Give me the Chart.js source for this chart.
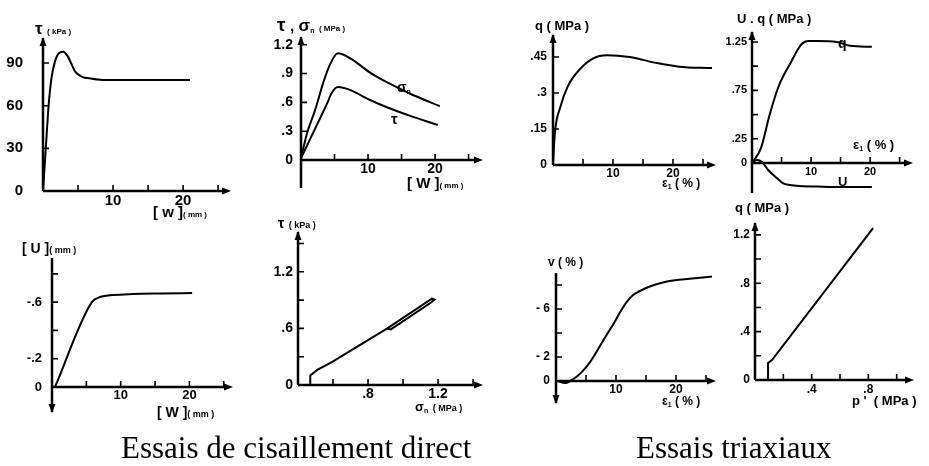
<!DOCTYPE html>
<html lang="fr">
<head>
<meta charset="UTF-8" />
<title>Essais de cisaillement direct / Essais triaxiaux</title>
<script src="https://cdn.jsdelivr.net/npm/chart.js"></script>
<style>
  body { margin: 0; background: #fff; }
  #page { position: relative; width: 929px; height: 466px; overflow: hidden; }
  #page canvas { position: absolute; left: 0; top: 0; }
  .t { position: absolute; white-space: nowrap; line-height: 1; font-family: 'Liberation Sans', Arial, sans-serif; font-weight: bold; color: #000; }
  .cap { position: absolute; white-space: nowrap; line-height: 1; font-family: 'Liberation Serif', 'Times New Roman', serif; font-size: 31px; color: #000; }
  .s { font-size: 8px; }
  sub { font-size: 7px; vertical-align: -2px; }
</style>
</head>
<body>
<div id="page">
  <canvas id="c1" width="929" height="466"></canvas>
  <canvas id="c2" width="929" height="466"></canvas>
  <canvas id="c3" width="929" height="466"></canvas>
  <canvas id="c4" width="929" height="466"></canvas>
  <canvas id="c5" width="929" height="466"></canvas>
  <canvas id="c6" width="929" height="466"></canvas>
  <canvas id="c7" width="929" height="466"></canvas>
  <canvas id="c8" width="929" height="466"></canvas>

  <!-- titres des axes -->
  <div class="t" style="left:35px;top:20px"><span style="font-size:17px">τ</span> <span class="s">( kPa )</span></div>
  <div class="t" style="left:153px;top:204px"><span style="font-size:15px">[ w ]</span><span class="s">( mm )</span></div>

  <div class="t" style="left:277px;top:15px"><span style="font-size:19px">τ</span> <span style="font-size:15px">,</span> <span style="font-size:17px">σ</span><sub>n</sub> <span class="s">( MPa )</span></div>
  <div class="t" style="left:407px;top:175px"><span style="font-size:15px">[ W ]</span><span class="s">( mm )</span></div>
  <div class="t" style="left:397px;top:79px"><span style="font-size:14px">σ</span><sub>n</sub></div>
  <div class="t" style="left:391px;top:111px;font-size:15px">τ</div>

  <div class="t" style="left:535px;top:19px;font-size:13px">q ( MPa )</div>
  <div class="t" style="left:662px;top:177px;font-size:12px">ε<sub>1</sub> ( % )</div>

  <div class="t" style="left:737px;top:12px;font-size:13px">U . q ( MPa )</div>
  <div class="t" style="left:853px;top:138px;font-size:13px">ε<sub>1</sub> ( % )</div>
  <div class="t" style="left:838px;top:36px;font-size:14px">q</div>
  <div class="t" style="left:838px;top:175px;font-size:13px">U</div>

  <div class="t" style="left:22px;top:240px"><span style="font-size:14px">[ U ]</span><span style="font-size:9px">( mm )</span></div>
  <div class="t" style="left:157px;top:404px"><span style="font-size:14px">[ W ]</span><span style="font-size:9px">( mm )</span></div>

  <div class="t" style="left:278px;top:215px"><span style="font-size:14px">τ</span> <span style="font-size:9px">( kPa )</span></div>
  <div class="t" style="left:415px;top:398px"><span style="font-size:13px">σ</span><sub>n</sub> <span style="font-size:9px">( MPa )</span></div>

  <div class="t" style="left:548px;top:256px;font-size:12px">v ( % )</div>
  <div class="t" style="left:662px;top:395px;font-size:12px">ε<sub>1</sub> ( % )</div>

  <div class="t" style="left:735px;top:201px;font-size:13px">q ( MPa )</div>
  <div class="t" style="left:852px;top:394px;font-size:13px">p ' &nbsp;( MPa )</div>

  <div class="cap" style="left:121px;top:432px">Essais de cisaillement direct</div>
  <div class="cap" style="left:636px;top:432px">Essais triaxiaux</div>
</div>

<script>
// ---- cisaillement direct ----
// tau - w
const w1 = [0, 0.4, 0.8, 1.2, 1.7, 2.3, 2.9, 3.5, 4.0, 4.6, 5.5, 7, 9, 12, 16, 21];
const tau1 = [0, 30, 60, 79, 91, 97, 98, 95, 90, 84, 80.5, 79, 78, 78, 78, 78];
const xTicks1 = [5, 10, 15, 20, 25];
const xLabels1 = ['', '10', '', '20', ''];
const yTicks1 = [0, 30, 60, 90];
const yLabels1 = ['0', '30', '60', '90'];

// tau, sigma_n - w
const wSig2 = [0, 0.9, 2.1, 3.3, 4.3, 5.5, 7.3, 10.3, 12.8, 16.3, 20.7];
const sig2 = [0.02, 0.28, 0.52, 0.80, 0.99, 1.11, 1.06, 0.91, 0.81, 0.69, 0.56];
const wTau2 = [0, 1.3, 2.5, 3.9, 4.6, 5.5, 7.3, 10.3, 12.8, 16.3, 20.4];
const tau2 = [0.02, 0.21, 0.385, 0.59, 0.70, 0.76, 0.73, 0.625, 0.55, 0.46, 0.365];
const xTicks2 = [5, 10, 15, 20, 25];
const xLabels2 = ['', '10', '', '20', ''];
const yTicks2 = [0, 0.3, 0.6, 0.9, 1.2];
const yLabels2 = ['0', '.3', '.6', '.9', '1.2'];

// U - w
const w5 = [0.44, 5.8, 7, 8.9, 11.8, 16, 20.4];
const u5 = [0, -0.60, -0.636, -0.65, -0.657, -0.661, -0.664];
const xTicks5 = [5, 10, 15, 20, 25];
const xLabels5 = ['', '10', '', '20', ''];
const yTicks5 = [0, -0.2, -0.4, -0.6, -0.8];
const yLabels5 = ['0', '-.2', '', '-.6', ''];

// tau - sigma_n
const sig6 = [0.47, 0.47, 0.51, 0.58, 0.60, 0.91, 1.165, 1.18, 1.16, 0.93, 0.905];
const tau6 = [0, 0.10, 0.16, 0.23, 0.25, 0.60, 0.915, 0.905, 0.875, 0.59, 0.60];
const xTicks6 = [0.6, 0.8, 1.0, 1.2, 1.4];
const xLabels6 = ['', '.8', '', '1.2', ''];
const yTicks6 = [0, 0.3, 0.6, 0.9, 1.2, 1.5];
const yLabels6 = ['0', '', '.6', '', '1.2', ''];

// ---- triaxiaux ----
// q - eps1
const eps3 = [0, 0.3, 1.2, 2.5, 4.5, 6.7, 9, 12.8, 17.3, 21, 26.5];
const q3 = [0, 0.13, 0.24, 0.33, 0.40, 0.445, 0.458, 0.45, 0.425, 0.41, 0.404];
const xTicks3 = [5, 10, 15, 20, 25];
const xLabels3 = ['', '10', '', '20', ''];
const yTicks3 = [0, 0.15, 0.3, 0.45];
const yLabels3 = ['0', '.15', '.3', '.45'];

// U, q - eps1
const epsQ4 = [0, 1.5, 3, 4.5, 6.5, 8.3, 9.5, 11, 14.4, 16.6, 20.3];
const q4 = [0, 0.15, 0.5, 0.79, 1.03, 1.22, 1.26, 1.26, 1.25, 1.21, 1.2];
const epsU4 = [0, 0.8, 1.7, 2.7, 4.2, 5.3, 6.4, 8, 12, 16, 20.3];
const u4 = [0, 0.03, 0.01, -0.07, -0.155, -0.21, -0.227, -0.238, -0.245, -0.248, -0.248];
const xTicks4 = [5, 10, 15, 20, 25];
const xLabels4 = ['', '10', '', '20', ''];
const yTicks4 = [0, 0.25, 0.5, 0.75, 1.0, 1.25];
const yLabels4 = ['0', '.25', '', '.75', '', '1.25'];

// v - eps1
const eps7 = [0.3, 1.5, 2.9, 4.2, 5.7, 7.4, 8.5, 9.7, 10.7, 11.8, 12.8, 14, 15.5, 18.5, 21.8, 24, 26];
const v7 = [0, 0.17, -0.17, -0.7, -1.6, -2.98, -3.9, -4.85, -5.75, -6.6, -7.15, -7.5, -7.85, -8.3, -8.5, -8.6, -8.7];
const xTicks7 = [5, 10, 15, 20, 25];
const xLabels7 = ['', '10', '', '20', ''];
const yTicks7 = [0, -2, -4, -6, -8];
const yLabels7 = ['0', '- 2', '', '- 6', ''];

// q - p'
const p8 = [0.092, 0.092, 0.12, 0.833];
const q8 = [0, 0.14, 0.165, 1.256];
const xTicks8 = [0.2, 0.4, 0.6, 0.8, 1.0];
const xLabels8 = ['', '.4', '', '.8', ''];
const yTicks8 = [0, 0.2, 0.4, 0.6, 0.8, 1.0, 1.2];
const yLabels8 = ['0', '', '.4', '', '.8', '', '1.2'];

const pts = (xs, ys) => xs.map((x, i) => ({ x, y: ys[i] }));
const YW = 40;

function arrow(ctx, x, y, dir) {
  const l = 8, h = 3.5;
  ctx.beginPath();
  if (dir === 'r') { ctx.moveTo(x + 1, y); ctx.lineTo(x - l, y - h); ctx.lineTo(x - l, y + h); }
  if (dir === 'u') { ctx.moveTo(x, y - 1); ctx.lineTo(x - h, y + l); ctx.lineTo(x + h, y + l); }
  if (dir === 'd') { ctx.moveTo(x, y + 1); ctx.lineTo(x - h, y - l); ctx.lineTo(x + h, y - l); }
  ctx.closePath();
  ctx.fill();
}

// axes noirs avec fleches et graduations vers l'interieur
const axesPlugin = {
  id: 'axes',
  afterDraw(chart, args, o) {
    const { ctx, chartArea: a, scales: { x, y } } = chart;
    const x0 = a.left, y0 = y.getPixelForValue(0);
    ctx.save();
    ctx.strokeStyle = '#000';
    ctx.fillStyle = '#000';
    ctx.lineWidth = 2.5;
    ctx.beginPath();
    ctx.moveTo(x0, a.top); ctx.lineTo(x0, a.bottom);
    ctx.moveTo(a.left, y0); ctx.lineTo(a.right - 4, y0);
    ctx.stroke();
    ctx.lineWidth = 1.6;
    ctx.beginPath();
    x.ticks.forEach(t => {
      const px = x.getPixelForValue(t.value);
      ctx.moveTo(px, y0); ctx.lineTo(px, y0 - 6);
    });
    y.ticks.forEach(t => {
      if (t.value === 0) return;
      const py = y.getPixelForValue(t.value);
      ctx.moveTo(x0, py); ctx.lineTo(x0 + 6, py);
    });
    ctx.stroke();
    arrow(ctx, a.right, y0, 'r');
    if (o.up) arrow(ctx, x0, a.top, 'u');
    if (o.down) arrow(ctx, x0, a.bottom, 'd');
    ctx.restore();
  }
};

function makeChart(id, p) {
  const font = { family: "'Liberation Sans', Arial, sans-serif", weight: 'bold', size: p.font };
  return new Chart(document.getElementById(id), {
    type: 'line',
    data: {
      datasets: p.series.map(s => ({
        data: s,
        borderColor: '#000',
        borderWidth: 2,
        pointRadius: 0,
        fill: false,
        tension: p.smooth ? 0.4 : 0,
        cubicInterpolationMode: p.smooth ? 'monotone' : 'default'
      }))
    },
    options: {
      responsive: false,
      animation: false,
      events: [],
      devicePixelRatio: 1,
      layout: { padding: { left: p.box[0] - YW, top: p.box[1], right: 929 - p.box[2], bottom: 466 - p.box[3] } },
      plugins: { legend: { display: false }, tooltip: { enabled: false }, axes: { up: p.up, down: p.down } },
      scales: {
        x: {
          type: 'linear', position: { y: 0 }, min: p.x[0], max: p.x[1],
          grid: { display: false, drawTicks: false }, border: { display: false },
          afterBuildTicks: s => { s.ticks = p.xt.map(v => ({ value: v })); },
          ticks: { font, color: '#000', padding: p.xpad, autoSkip: false, maxRotation: 0,
                   callback: (v, i) => p.xl[i] }
        },
        y: {
          type: 'linear', position: 'left', min: p.y[0], max: p.y[1], reverse: !!p.rev,
          grid: { display: false, drawTicks: false }, border: { display: false },
          afterFit: s => { s.width = YW; },
          afterBuildTicks: s => { s.ticks = p.yt.map(v => ({ value: v })); },
          ticks: { font, color: '#000', padding: p.ypad, autoSkip: false,
                   callback: (v, i) => p.yl[i] }
        }
      }
    },
    plugins: [axesPlugin]
  });
}

makeChart('c1', { box: [43, 38, 230, 191], x: [0, 26.7], y: [0, 107.6], font: 15, xpad: 1, ypad: 20, up: true, smooth: true,
  xt: xTicks1, xl: xLabels1, yt: yTicks1, yl: yLabels1, series: [pts(w1, tau1)] });
makeChart('c2', { box: [301, 37, 482, 188], x: [0, 27], y: [-0.29, 1.28], font: 14, xpad: 1, ypad: 8, up: true, smooth: true,
  xt: xTicks2, xl: xLabels2, yt: yTicks2, yl: yLabels2, series: [pts(wSig2, sig2), pts(wTau2, tau2)] });
makeChart('c3', { box: [553, 35, 715, 165], x: [0, 27], y: [0, 0.542], font: 12, xpad: 1, ypad: 6, up: true, smooth: true,
  xt: xTicks3, xl: xLabels3, yt: yTicks3, yl: yLabels3, series: [pts(eps3, q3)] });
makeChart('c4', { box: [752, 32, 912, 193], x: [0, 27.1], y: [-0.31, 1.353], font: 11, xpad: 2, ypad: 5, up: true, smooth: true,
  xt: xTicks4, xl: xLabels4, yt: yTicks4, yl: yLabels4, series: [pts(epsQ4, q4), pts(epsU4, u4)] });
makeChart('c5', { box: [52, 258, 232, 412], x: [0, 26.2], y: [-0.912, 0.177], rev: true, font: 13, xpad: 1, ypad: 10, down: true, smooth: true,
  xt: xTicks5, xl: xLabels5, yt: yTicks5, yl: yLabels5, series: [pts(w5, u5)] });
makeChart('c6', { box: [298, 232, 482, 385], x: [0.4, 1.451], y: [0, 1.622], font: 14, xpad: 1, ypad: 5, up: true, smooth: false,
  xt: xTicks6, xl: xLabels6, yt: yTicks6, yl: yLabels6, series: [pts(sig6, tau6)] });
makeChart('c7', { box: [556, 273, 715, 403], x: [0, 26.5], y: [-9.0, 1.83], rev: true, font: 12, xpad: 1, ypad: 6, down: true, smooth: true,
  xt: xTicks7, xl: xLabels7, yt: yTicks7, yl: yLabels7, series: [pts(eps7, v7)] });
makeChart('c8', { box: [755, 223, 913, 380], x: [0, 1.115], y: [0, 1.298], font: 12, xpad: 2, ypad: 5, up: true, smooth: false,
  xt: xTicks8, xl: xLabels8, yt: yTicks8, yl: yLabels8, series: [pts(p8, q8)] });
</script>
</body>
</html>
